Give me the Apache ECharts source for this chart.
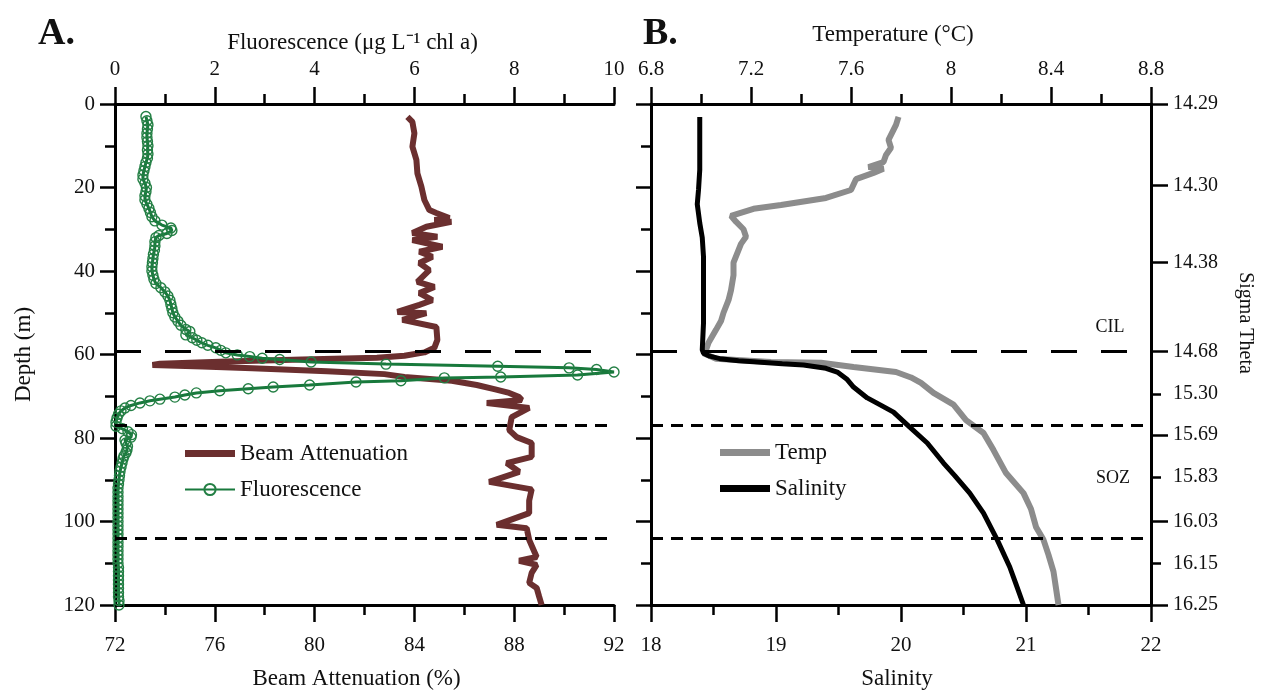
<!DOCTYPE html>
<html>
<head>
<meta charset="utf-8">
<script src="https://cdn.jsdelivr.net/npm/echarts@6/dist/echarts.min.js"></script>
<style>
  html, body { margin: 0; padding: 0; background: #fff; }
  #chart { width: 1268px; height: 695px; }
</style>
</head>
<body>
<div id="chart"></div>
<script>
// ---------------- Data ----------------
// Panel A: Beam attenuation (%) vs depth (m)
const beamDepth = [3.1, 4.3, 7, 10.2, 13.4, 16.6, 19.8, 23, 25.4, 26.1, 27.3, 27.8, 28.2, 29.4, 30.9, 31.8, 32.6, 34.2, 35.4, 36.6, 38.1, 39.8, 42.6, 43.8, 45.3, 47, 48.1, 49.8, 50.1, 51.7, 53.4, 56.5, 58.4, 59.5, 60.3, 60.8, 61.2, 61.7, 62.2, 62.5, 62.9, 63.3, 64, 64.7, 65.4, 66.3, 67.3, 68.3, 69.2, 70.2, 70.9, 71.6, 72.8, 75, 78.1, 79.8, 81.2, 84.5, 86, 88.1, 90.5, 92.3, 95, 98, 100.8, 101.6, 104.4, 108.5, 109.4, 110.4, 112.3, 114.7, 115.9, 118, 120];
const beamValue = [83.72, 83.92, 84.0, 83.92, 84.08, 84.12, 84.28, 84.4, 84.6, 84.88, 85.4, 84.8, 85.48, 84.48, 83.92, 84.92, 83.92, 85.12, 84.2, 84.72, 84.2, 84.6, 84.12, 84.8, 84.2, 84.72, 84.2, 83.32, 84.48, 83.52, 84.88, 84.92, 84.8, 84.4, 83.6, 82.5, 79.5, 76.5, 73.8, 73.5, 75.5, 77.5, 80.5, 82.8, 83.6, 85.5, 86.5, 87.2, 87.8, 88.2, 88.3, 86.9, 88.6, 87.9, 87.8, 88.1, 88.7, 88.7, 87.7, 88.2, 87.0, 88.7, 88.6, 88.6, 87.3, 88.5, 88.6, 88.9, 88.2, 88.9, 88.7, 88.6, 88.9, 89.0, 89.1];

// Panel A: Fluorescence (ug/L chl a) vs depth (m)
const fluoDepth = [3, 4, 5, 6, 7, 8, 9, 10, 11, 12, 13, 14, 15, 16, 17, 18, 19, 20, 21, 22, 23, 24, 25, 26, 27, 28, 29, 29.7, 30.3, 31, 31.5, 32, 33, 34, 35, 36, 37, 38, 39, 40, 41, 42, 43, 44, 45, 46, 47, 48, 49, 50, 51, 52, 53, 54, 54.5, 55.3, 56, 56.6, 57.2, 57.8, 58.4, 59, 59.6, 60.1, 60.5, 60.9, 61.2, 61.8, 62.3, 62.8, 63.2, 63.6, 64.2, 64.9, 65.4, 65.6, 66.3, 66.6, 67.3, 67.8, 68.2, 68.7, 69.2, 69.7, 70.2, 70.7, 71.1, 71.6, 72.2, 72.8, 73.5, 74.3, 75.2, 76.2, 77.2, 77.8, 78.5, 79.2, 79.8, 80.5, 81.2, 82, 82.8, 83.5, 84.3, 85, 86, 87, 88, 89, 90, 91, 92, 93, 94, 95, 96, 97, 98, 99, 100, 101, 102, 103, 104, 105, 106, 107, 108, 109, 110, 111, 112, 113, 114, 115, 116, 117, 118, 119, 120];
const fluoValue = [0.62, 0.64, 0.66, 0.65, 0.64, 0.64, 0.65, 0.66, 0.65, 0.66, 0.65, 0.62, 0.60, 0.58, 0.56, 0.56, 0.60, 0.63, 0.62, 0.60, 0.60, 0.64, 0.68, 0.71, 0.74, 0.80, 0.94, 1.12, 1.14, 1.04, 0.88, 0.82, 0.80, 0.80, 0.79, 0.77, 0.76, 0.75, 0.74, 0.74, 0.76, 0.78, 0.82, 0.92, 1.0, 1.06, 1.10, 1.12, 1.14, 1.16, 1.20, 1.26, 1.32, 1.42, 1.50, 1.42, 1.55, 1.64, 1.74, 1.86, 2.02, 2.12, 2.22, 2.45, 2.70, 2.95, 3.30, 3.93, 5.43, 7.67, 9.10, 9.65, 10.0, 9.27, 7.73, 6.60, 5.73, 4.83, 3.90, 3.17, 2.67, 2.10, 1.63, 1.40, 1.20, 0.90, 0.70, 0.50, 0.32, 0.20, 0.12, 0.07, 0.04, 0.02, 0.02, 0.15, 0.26, 0.33, 0.32, 0.20, 0.22, 0.25, 0.24, 0.22, 0.18, 0.16, 0.14, 0.12, 0.10, 0.09, 0.08, 0.07, 0.06, 0.06, 0.06, 0.06, 0.06, 0.06, 0.06, 0.06, 0.06, 0.06, 0.06, 0.06, 0.06, 0.06, 0.06, 0.06, 0.06, 0.06, 0.06, 0.07, 0.07, 0.07, 0.07, 0.07, 0.07, 0.07, 0.07, 0.08, 0.08];

// Panel B: Temperature (°C) vs depth (m)
const tempDepth = [3.1, 5, 6.2, 8.6, 10.5, 12.2, 13.9, 15.1, 15.5, 16.5, 18, 20.6, 22.5, 24.2, 25.1, 26.8, 28.2, 30, 31.8, 33.5, 35, 38, 41, 44.6, 47, 50, 52, 54.1, 57.2, 58.9, 59.7, 61, 61.8, 62, 63, 64.2, 65.5, 66.8, 69.2, 72, 75.7, 78.8, 82.9, 88.4, 93.2, 97, 101.3, 104.4, 108, 112, 116, 120];
const tempValue = [7.79, 7.78, 7.77, 7.75, 7.76, 7.74, 7.73, 7.67, 7.73, 7.69, 7.62, 7.60, 7.50, 7.32, 7.21, 7.12, 7.14, 7.17, 7.18, 7.16, 7.15, 7.13, 7.13, 7.12, 7.11, 7.09, 7.08, 7.06, 7.03, 7.02, 7.01, 7.06, 7.28, 7.48, 7.61, 7.78, 7.84, 7.88, 7.93, 8.01, 8.06, 8.13, 8.17, 8.22, 8.29, 8.32, 8.34, 8.37, 8.39, 8.41, 8.42, 8.43];

// Panel B: Salinity vs depth (m)
const salDepth = [3.1, 10, 15.8, 20.6, 24, 28.5, 32, 36.6, 45, 52.5, 58.9, 59.7, 60.4, 61, 61.5, 61.8, 62.2, 62.5, 63.3, 64.2, 66, 67.8, 70.4, 72, 73.8, 77.4, 81.2, 86, 89, 93.2, 98, 104.4, 110.9, 115, 120];
const salValue = [18.39, 18.39, 18.39, 18.38, 18.37, 18.39, 18.41, 18.42, 18.42, 18.42, 18.41, 18.42, 18.47, 18.55, 18.70, 18.85, 19.05, 19.22, 19.40, 19.49, 19.57, 19.62, 19.73, 19.83, 19.94, 20.07, 20.21, 20.34, 20.43, 20.55, 20.66, 20.77, 20.87, 20.92, 20.98];

// Sigma Theta tick labels (right axis of panel B) and the depths they sit at
const sigmaLabels = ['14.29', '14.30', '14.38', '14.68', '15.30', '15.69', '15.83', '16.03', '16.15', '16.25'];
const sigmaDepth = [0, 19.5, 38, 59.3, 69.5, 79.3, 89.3, 100, 110, 120];
const sigmaLongTickDepth = [0, 19.5, 38, 59.3, 79.3, 100, 120];
const sigmaShortTickDepth = [69.5, 89.3, 110];

// Layer boundaries (depth, m)
const cilDepth = 59.2;
const sozTop = 77;
const sozBottom = 104;

// ---------------- Chart ----------------
const zip = (xs, ys) => xs.map((x, i) => [x, ys[i]]);
const FONT = '"Liberation Serif", "Times New Roman", serif';
const AX = { color: '#000', width: 3 };
const BAR_ICON = 'path://M0,0 L50,0 L50,7 L0,7 Z';

function nameStyle(padRight) {
  return { fontFamily: FONT, fontSize: 23, color: '#111', padding: [0, padRight, 0, 0] };
}

function xAxisCfg(grid, pos, min, max, interval, name, extra) {
  return Object.assign({
    type: 'value', gridIndex: grid, position: pos, min: min, max: max, interval: interval,
    name: name, nameLocation: 'middle',
    nameGap: pos === 'top' ? 52 : 62,
    nameTextStyle: nameStyle(0),
    axisLine: { show: true, onZero: false, lineStyle: AX },
    axisTick: { show: true, inside: false, length: 17, lineStyle: { color: '#000', width: 2.5 } },
    minorTick: { show: true, splitNumber: 2, length: 10, lineStyle: { color: '#000', width: 2.5 } },
    axisLabel: { fontFamily: FONT, fontSize: 21, color: '#111', margin: pos === 'top' ? 24 : 30 },
    splitLine: { show: false }, minorSplitLine: { show: false }
  }, extra || {});
}

function depthAxis(grid, pos, showLabel, extra) {
  return Object.assign({
    type: 'value', gridIndex: grid, position: pos, min: 0, max: 120, interval: 20, inverse: true,
    axisLine: { show: true, onZero: false, lineStyle: AX },
    axisTick: { show: true, inside: false, length: 15, lineStyle: { color: '#000', width: 2.5 } },
    minorTick: { show: true, splitNumber: 2, length: 10, lineStyle: { color: '#000', width: 2.5 } },
    axisLabel: { show: showLabel, fontFamily: FONT, fontSize: 21, color: '#111', margin: 20 },
    splitLine: { show: false }, minorSplitLine: { show: false }
  }, extra || {});
}

const longDash = { color: '#000', width: 3, type: [26, 24] };
const shortDash = { color: '#000', width: 3, type: [12, 8] };
const layerLines = {
  silent: true, symbol: ['none', 'none'], label: { show: false },
  data: [
    { yAxis: cilDepth, lineStyle: longDash },
    { yAxis: sozTop, lineStyle: shortDash },
    { yAxis: sozBottom, lineStyle: shortDash }
  ]
};

const fmt = v => String(Math.round(v * 10) / 10);

const option = {
  backgroundColor: '#fff',
  animation: false,
  title: [
    { text: 'A.', left: 33, top: 10, textStyle: { fontFamily: FONT, fontSize: 38, fontWeight: 'bold', color: '#111' } },
    { text: 'B.', left: 638, top: 10, textStyle: { fontFamily: FONT, fontSize: 38, fontWeight: 'bold', color: '#111' } }
  ],
  grid: [
    { left: 115, top: 104, width: 499, height: 501 },
    { left: 651, top: 104, width: 500, height: 501 }
  ],
  xAxis: [
    xAxisCfg(0, 'top', 0, 10, 2, 'Fluorescence (μg L⁻¹ chl a)', { nameGap: 50, nameTextStyle: nameStyle(24) }),
    xAxisCfg(0, 'bottom', 72, 92, 4, 'Beam Attenuation (%)', { nameTextStyle: nameStyle(16) }),
    xAxisCfg(1, 'top', 6.8, 8.8, 0.4, 'Temperature (°C)', {
      nameGap: 58, nameTextStyle: nameStyle(16),
      axisLabel: { fontFamily: FONT, fontSize: 21, color: '#111', margin: 24, formatter: fmt }
    }),
    xAxisCfg(1, 'bottom', 18, 22, 1, 'Salinity', { nameTextStyle: nameStyle(8) })
  ],
  yAxis: [
    depthAxis(0, 'left', true, { name: 'Depth (m)', nameLocation: 'middle', nameGap: 80, nameRotate: 90, nameTextStyle: { fontFamily: FONT, fontSize: 23, color: '#111' } }),
    depthAxis(1, 'left', false),
    {
      type: 'value', gridIndex: 1, position: 'right', min: 0, max: 120, inverse: true,
      axisLine: { show: true, onZero: false, lineStyle: AX },
      axisTick: { show: true, inside: false, length: 17, customValues: sigmaLongTickDepth, lineStyle: { color: '#000', width: 2.5 } },
      axisLabel: {
        show: true, fontFamily: FONT, fontSize: 20, color: '#111', margin: 22, customValues: sigmaDepth,
        formatter: function (v) {
          let best = 0;
          for (let i = 0; i < sigmaDepth.length; i++) if (Math.abs(sigmaDepth[i] - v) < Math.abs(sigmaDepth[best] - v)) best = i;
          return sigmaLabels[best];
        }
      },
      splitLine: { show: false }
    },
    {
      type: 'value', gridIndex: 1, position: 'right', min: 0, max: 120, inverse: true,
      axisLine: { show: false },
      axisTick: { show: true, inside: false, length: 10, customValues: sigmaShortTickDepth, lineStyle: { color: '#000', width: 2.5 } },
      axisLabel: { show: false },
      splitLine: { show: false }
    }
  ],
  legend: [
    {
      data: [
        { name: 'Beam Attenuation', icon: BAR_ICON },
        { name: 'Fluorescence' }
      ],
      orient: 'vertical', left: 179, top: 437,
      itemWidth: 50, itemHeight: 14, itemGap: 13,
      textStyle: { fontFamily: FONT, fontSize: 23, color: '#111' }
    },
    {
      data: [
        { name: 'Temp', icon: BAR_ICON },
        { name: 'Salinity', icon: BAR_ICON }
      ],
      orient: 'vertical', left: 715, top: 436,
      itemWidth: 50, itemHeight: 14, itemGap: 13,
      textStyle: { fontFamily: FONT, fontSize: 23, color: '#111' }
    }
  ],
  graphic: [
    { type: 'text', x: 1245, y: 323, rotation: -Math.PI / 2, style: { text: 'Sigma Theta', font: '20px "Liberation Serif"', fill: '#111', align: 'center', verticalAlign: 'middle' } },
    { type: 'text', x: 1110, y: 327, style: { text: 'CIL', font: '18px "Liberation Serif"', fill: '#111', align: 'center', verticalAlign: 'middle' } },
    { type: 'text', x: 1113, y: 478, style: { text: 'SOZ', font: '18px "Liberation Serif"', fill: '#111', align: 'center', verticalAlign: 'middle' } }
  ],
  series: [
    {
      name: 'Beam Attenuation', type: 'line', xAxisIndex: 1, yAxisIndex: 0,
      data: zip(beamValue, beamDepth), showSymbol: false, symbol: 'none',
      lineStyle: { color: '#6b2f2f', width: 6 }, itemStyle: { color: '#6b2f2f' },
      markLine: layerLines, z: 2
    },
    {
      name: 'Fluorescence', type: 'line', xAxisIndex: 0, yAxisIndex: 0,
      data: zip(fluoValue, fluoDepth), symbol: 'circle', symbolSize: 10, showSymbol: true,
      lineStyle: { color: '#18793c', width: 3 },
      itemStyle: { color: 'rgba(255,255,255,0)', borderColor: '#237f44', borderWidth: 1.4 },
      z: 3
    },
    {
      name: 'Temp', type: 'line', xAxisIndex: 2, yAxisIndex: 1,
      data: zip(tempValue, tempDepth), showSymbol: false, symbol: 'none',
      lineStyle: { color: '#8c8c8c', width: 6 }, itemStyle: { color: '#8c8c8c' }, z: 2
    },
    {
      name: 'Salinity', type: 'line', xAxisIndex: 3, yAxisIndex: 1,
      data: zip(salValue, salDepth), showSymbol: false, symbol: 'none',
      lineStyle: { color: '#000', width: 5 }, itemStyle: { color: '#000' },
      markLine: layerLines, z: 3
    }
  ]
};

const chart = echarts.init(document.getElementById('chart'), null, { renderer: 'canvas' });
chart.setOption(option);
</script>
</body>
</html>
